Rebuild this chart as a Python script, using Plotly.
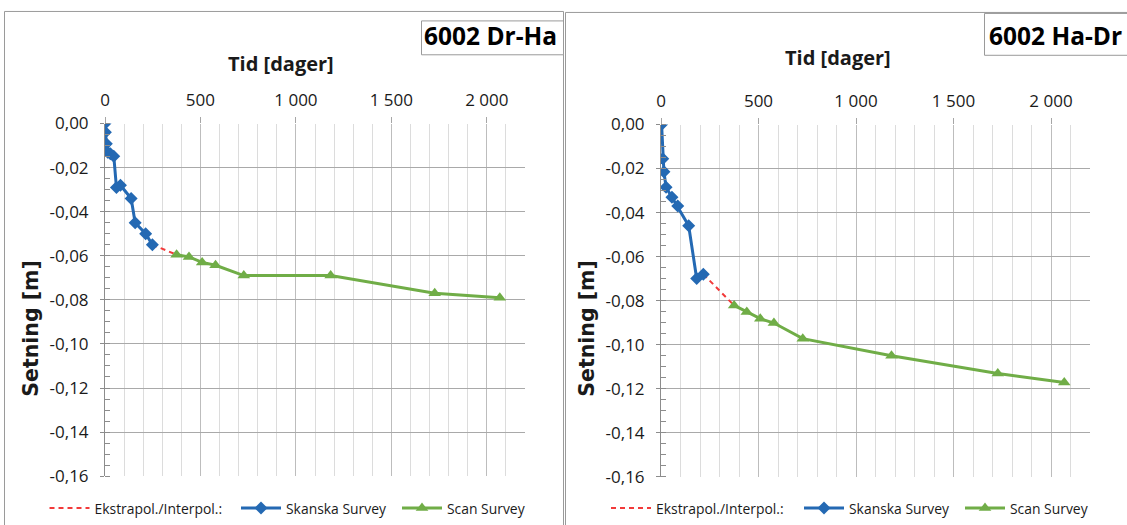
import plotly.graph_objects as go

# Settlement measurements for point 6002 (days since start, settlement in metres)
SKANSKA_DR_HA_DAYS = [0, 2, 7, 14, 28, 46, 60, 81, 137, 158, 213, 248]
SKANSKA_DR_HA = [0.0, -0.004, -0.0092, -0.013, -0.0137, -0.0148, -0.029, -0.028,
                 -0.034, -0.045, -0.050, -0.055]

SKANSKA_HA_DR_DAYS = [3, 9, 15, 26, 56, 86, 142, 183, 217]
SKANSKA_HA_DR = [0.0, -0.0155, -0.0215, -0.0285, -0.0330, -0.0370, -0.0460, -0.0700, -0.0680]

SCAN_DAYS = [375, 440, 509, 579, 727, 1182, 1727, 2068]
SCAN_DR_HA = [-0.0595, -0.0605, -0.063, -0.0643, -0.069, -0.069, -0.077, -0.079]
SCAN_HA_DR = [-0.0822, -0.0852, -0.0882, -0.0902, -0.0973, -0.1051, -0.1131, -0.1172]

PANEL_TITLES = ["6002 Dr-Ha", "6002 Ha-Dr"]
SERIES_NAMES = ["Ekstrapol./Interpol.:", "Skanska Survey", "Scan Survey"]
X_TITLE = "Tid [dager]"
Y_TITLE = "Setning [m]"

X_TICK_VALUES = [0, 500, 1000, 1500, 2000]
X_TICK_LABELS = ["0", "500", "1 000", "1 500", "2 000"]
Y_TICK_VALUES = [0.0, -0.02, -0.04, -0.06, -0.08, -0.10, -0.12, -0.14, -0.16]
Y_TICK_LABELS = ["0,00", "-0,02", "-0,04", "-0,06", "-0,08", "-0,10", "-0,12", "-0,14", "-0,16"]

W, H = 1127, 525
BLUE = "#2469B3"
GREEN = "#70AD47"
RED = "#F23A3A"
FONT = "Open Sans"
TEXT = "#1a1a1a"


def px(x):
    return x / W


def py(y):
    return 1 - y / H


fig = go.Figure()

# each legend entry gets its own legend box so the spacing can follow the layout below
panels = [
    dict(days=SKANSKA_DR_HA_DAYS, vals=SKANSKA_DR_HA, scan=SCAN_DR_HA, xa="x", ya="y",
         legends=["legend", "legend2", "legend3"], legend_x=[44.5, 236, 397]),
    dict(days=SKANSKA_HA_DR_DAYS, vals=SKANSKA_HA_DR, scan=SCAN_HA_DR, xa="x2", ya="y2",
         legends=["legend4", "legend5", "legend6"], legend_x=[606, 799, 960]),
]

legend_font = dict(family=FONT, size=13.9, color=TEXT)
legend_layout = {}

for p in panels:
    lg = p["legends"]
    # dashed link between the last Skanska reading and the first scan reading
    fig.add_trace(go.Scatter(
        x=[p["days"][-1], SCAN_DAYS[0]], y=[p["vals"][-1], p["scan"][0]],
        mode="lines", name=SERIES_NAMES[0],
        line=dict(color=RED, width=2, dash="5px,4px"),
        xaxis=p["xa"], yaxis=p["ya"], legend=lg[0]))
    fig.add_trace(go.Scatter(
        x=p["days"], y=p["vals"], mode="lines+markers", name=SERIES_NAMES[1],
        line=dict(color=BLUE, width=3),
        marker=dict(symbol="diamond", size=10, color=BLUE),
        xaxis=p["xa"], yaxis=p["ya"], legend=lg[1]))
    fig.add_trace(go.Scatter(
        x=SCAN_DAYS, y=p["scan"], mode="lines+markers", name=SERIES_NAMES[2],
        line=dict(color=GREEN, width=3),
        marker=dict(symbol="triangle-up", size=11, color=GREEN),
        xaxis=p["xa"], yaxis=p["ya"], legend=lg[2]))
    for name, lx in zip(lg, p["legend_x"]):
        legend_layout[name] = dict(
            orientation="h", x=px(lx), y=py(510.5), xanchor="left", yanchor="middle",
            font=legend_font, itemwidth=40, bgcolor="rgba(0,0,0,0)")

tick_font = dict(family=FONT, size=17, color=TEXT)

xaxis_common = dict(
    range=[0, 2200], side="top", tickvals=X_TICK_VALUES, ticktext=X_TICK_LABELS,
    tickfont=tick_font, ticks="outside", ticklen=6, tickcolor="#a6a6a6",
    showgrid=True, gridcolor="#bdbdbd", gridwidth=1.3,
    minor=dict(dtick=100, showgrid=True, gridcolor="#dcdcdc", gridwidth=1, ticks=""),
    showline=False, zeroline=False, fixedrange=True, ticklabelstandoff=4,
    automargin=False,
)
yaxis_common = dict(
    range=[-0.16, 0.0], tickvals=Y_TICK_VALUES, ticktext=Y_TICK_LABELS,
    tickfont=tick_font, ticks="outside", ticklen=4, tickcolor="#8c8c8c",
    showgrid=True, gridcolor="#a9a9a9", gridwidth=1,
    minor=dict(dtick=0.005, ticks="inside", ticklen=5, tickcolor="#8c8c8c", showgrid=False),
    showline=True, linecolor="#8c8c8c", linewidth=1, zeroline=False, fixedrange=True,
    ticklabelstandoff=8, automargin=False,
)

fig.update_layout(
    width=W, height=H, margin=dict(l=0, r=0, t=0, b=0),
    paper_bgcolor="white", plot_bgcolor="white",
    font=dict(family=FONT, color=TEXT),
    xaxis=dict(domain=[px(105), px(525)], anchor="y", **xaxis_common),
    yaxis=dict(domain=[py(478), py(124)], anchor="x", **yaxis_common),
    xaxis2=dict(domain=[px(661), px(1090)], anchor="y2", **xaxis_common),
    yaxis2=dict(domain=[py(478.5), py(125)], anchor="x2", **yaxis_common),
    showlegend=True,
    **legend_layout,
)

# chart frames and the panel-title boxes
shapes = [
    dict(type="rect", xref="paper", yref="paper", x0=px(4.5), x1=px(563.5), y0=-0.05, y1=py(11.5),
         line=dict(color="#9a9a9a", width=1), fillcolor="rgba(0,0,0,0)", layer="below"),
    dict(type="rect", xref="paper", yref="paper", x0=px(565.5), x1=1.05, y0=-0.05, y1=py(12.5),
         line=dict(color="#9a9a9a", width=1), fillcolor="rgba(0,0,0,0)", layer="below"),
    dict(type="rect", xref="paper", yref="paper", x0=px(421.5), x1=px(563.5), y0=py(55), y1=py(21),
         line=dict(color="#9a9a9a", width=1), fillcolor="white", layer="below"),
    dict(type="rect", xref="paper", yref="paper", x0=px(984.5), x1=1.05, y0=py(55.5), y1=py(13.5),
         line=dict(color="#9a9a9a", width=1), fillcolor="white", layer="below"),
]
fig.update_layout(shapes=shapes)

annotations = [
    dict(text="<b>%s</b>" % PANEL_TITLES[0], x=px(490), y=py(36), font=dict(family=FONT, size=24.5, color="black")),
    dict(text="<b>%s</b>" % PANEL_TITLES[1], x=px(1055), y=py(36), font=dict(family=FONT, size=24.5, color="black")),
    dict(text="<b>%s</b>" % X_TITLE, x=px(281), y=py(64), font=dict(family=FONT, size=20, color=TEXT)),
    dict(text="<b>%s</b>" % X_TITLE, x=px(838), y=py(58), font=dict(family=FONT, size=20, color=TEXT)),
    dict(text="<b>%s</b>" % Y_TITLE, x=px(31), y=py(330), textangle=-90,
         font=dict(family="DejaVu Sans", size=20.5, color=TEXT)),
    dict(text="<b>%s</b>" % Y_TITLE, x=px(587), y=py(330), textangle=-90,
         font=dict(family="DejaVu Sans", size=20.5, color=TEXT)),
]
for a in annotations:
    a.update(xref="paper", yref="paper", showarrow=False, xanchor="center", yanchor="middle")
fig.update_layout(annotations=annotations)

fig.write_html("out.html")
